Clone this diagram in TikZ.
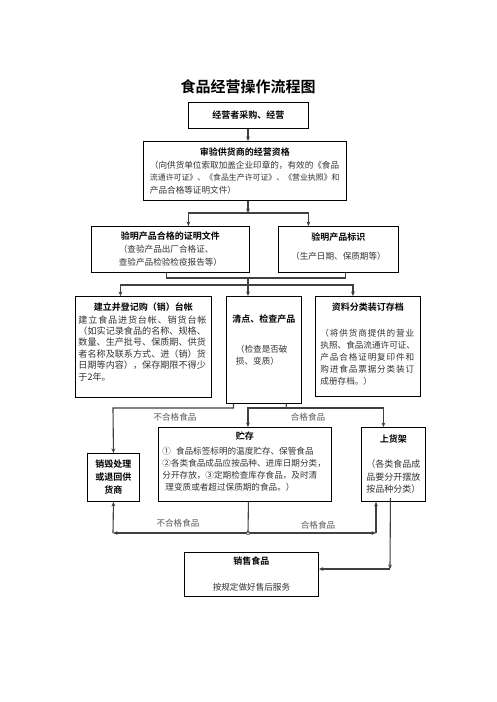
\documentclass[tikz,border=0pt]{standalone}
\usepackage{fontspec}
\setmainfont{Noto Sans CJK SC}[BoldFont={Noto Sans CJK SC Bold}]
\usetikzlibrary{arrows.meta}

\newcommand\bodyfont{\fontsize{8.6}{12.4}\selectfont}
\newcommand\hd[1]{{\color{black}\fontsize{9}{12}\selectfont\bfseries #1}}

\begin{document}
\begin{tikzpicture}[x=1pt,y=-1pt,
    box/.style={draw, line width=0.9pt, anchor=north west, inner sep=0pt,
      align=center, font=\bodyfont, text=black!80},
    link/.style={draw=black!75, line width=1.1pt},
    arr/.style={link, -{Stealth[length=4.5pt,width=3.8pt]}},
    twin/.style={link, {Stealth[length=4.5pt,width=3.8pt,reversed]}-{Stealth[length=4.5pt,width=3.8pt]}},
    tag/.style={font=\bodyfont, text=black!65}]
  \path[fill=white,use as bounding box] (0,0) rectangle (496,702);

  % title
  \node[font=\fontsize{15}{18}\selectfont\bfseries] (title) at (248,87) {食品经营操作流程图};

  % boxes
  \node[box, minimum width=120pt, minimum height=26pt,
    font=\fontsize{9}{12}\selectfont\bfseries, text=black] (buy) at (188,102) {经营者采购、经营};
  \node[box, minimum width=203pt, minimum height=59pt] (check) at (143,141)
    {\hd{审验供货商的经营资格}\\[0.5pt]
     \makebox[190pt][l]{（向供货单位索取加盖企业印章的，有效的《食品}\\
     \makebox[190pt][l]{\fontsize{7.9}{12.4}\selectfont 流通许可证》、《食品生产许可证》、《营业执照》和}\\
     \makebox[190pt][l]{产品合格等证明文件）}};
  \node[box, minimum width=158pt, minimum height=46pt,
    font=\fontsize{8.6}{13}\selectfont] (cert) at (91,226)
    {\hd{验明产品合格的证明文件}\\
     \makebox[103.2pt][l]{（查验产品出厂合格证、}\\
     查验产品检验检疫报告等）};
  \node[box, minimum width=120pt, minimum height=46pt] (mark) at (278,226)
    {\hd{验明产品标识}\\[6.6pt]（生产日期、保质期等）\\[-4.8pt]};
  \node[box, minimum width=136pt, minimum height=101pt,
    font=\fontsize{9.1}{11.4}\selectfont] (ledger) at (75,296)
    {\hd{建立并登记购（销）台帐}\\[1.6pt]
     \makebox[130pt][l]{\addfontfeature{LetterSpace=9}建立食品进货台帐、销货台帐}\\
     \makebox[130pt][l]{（如实记录食品的名称、规格、}\\
     \makebox[130pt][l]{数量、生产批号、保质期、供货}\\
     \makebox[130pt][l]{者名称及联系方式、进（销）货}\\
     \makebox[130pt][l]{日期等内容），保存期限不得少}\\
     \makebox[130pt][l]{于2年。}\\[0.2pt]};
  \node[box, minimum width=75pt, minimum height=107pt,
    font=\fontsize{8.6}{11.4}\selectfont] (inspect) at (226,296)
    {\hd{清点、检查产品}\\[18.6pt]
     \makebox[56pt][l]{（检查是否破}\\
     \makebox[56pt][l]{损、变质）}\\[9.2pt]};
  \node[box, minimum width=105pt, minimum height=100pt,
    font=\fontsize{8.6}{12}\selectfont] (archive) at (315,296)
    {\hd{资料分类装订存档}\\[14pt]
     \makebox[95pt][l]{\addfontfeature{LetterSpace=10}（将供货商提供的营业}\\
     \makebox[95pt][l]{执照、食品流通许可证、}\\
     \makebox[95pt][l]{\addfontfeature{LetterSpace=10}产品合格证明复印件和}\\
     \makebox[95pt][l]{\addfontfeature{LetterSpace=10}购进食品票据分类装订}\\
     \makebox[95pt][l]{成册存档。）}\\[-7.4pt]};
  \node[box, minimum width=52pt, minimum height=48pt,
    font=\fontsize{9}{13}\selectfont\bfseries, text=black] (destroy) at (87,453)
    {销毁处理\\或退回供\\货商};
  \node[box, minimum width=173pt, minimum height=74pt,
    font=\fontsize{8.6}{12}\selectfont] (store) at (158,427)
    {\hd{贮存}\\[3pt]
     \makebox[165pt][l]{①\hspace{5pt}食品标签标明的温度贮存、保管食品}\\
     \makebox[165pt][l]{②各类食品成品应按品种、进库日期分类，}\\
     \makebox[165pt][l]{分开存放，③定期检查库存食品，及时清}\\
     \makebox[165pt][l]{\hspace{3pt}理变质或者超过保质期的食品。）}\\[-4.4pt]};
  \node[box, minimum width=64pt, minimum height=74pt,
    font=\fontsize{9}{12.5}\selectfont] (shelf) at (361,427)
    {\hd{上货架}\\[12.5pt]（各类食品成\\品要分开摆放\\按品种分类）};
  \node[box, minimum width=134pt, minimum height=44pt] (sell) at (184,552)
    {\hd{销售食品}\\[13.6pt]按规定做好售后服务};

  % connectors
  \coordinate (fork1) at (248,213);
  \coordinate (join1) at (248,278);
  \coordinate (fork2) at (248,285);
  \coordinate (bad1) at (113,408);
  \coordinate (good1) at (286,408);
  \coordinate (split) at (248,533);
  \coordinate (bad2) at (113,533);
  \coordinate (good2) at (376,533);
  \coordinate (out) at (390,569);

  \draw[arr] (buy.south -| fork1) -- (check.north -| fork1);
  \draw[arr] (check.south -| fork1) -- (fork1);
  \draw[arr] (fork1) -| ([xshift=18pt]cert.north);
  \draw[arr] (fork1) -| ([xshift=-30pt]mark.north);
  \draw[link] ([xshift=-4pt]cert.south) |- (join1) -| ([xshift=7pt]mark.south);
  \draw[link] (join1) -- (fork2);
  \draw[arr] (fork2) -| ([xshift=-23pt]ledger.north);
  \draw[arr] (fork2) -- (fork2 |- inspect.north);
  \draw[arr] (fork2) -| ([xshift=-15pt]archive.north);

  \draw[arr] ([xshift=-30.5pt]inspect.south) |- (bad1) -- (destroy.north);
  \draw[link] ([xshift=22.5pt]inspect.south) -- (good1);
  \draw[arr] (good1) -| ([xshift=3pt]store.north);
  \draw[arr] (good1) -| ([xshift=-10pt]shelf.north);

  \draw[link] ([xshift=3.5pt]store.south) -- (split);
  \draw[twin] (split) -- (bad2);
  \draw[arr] (bad2) -- (destroy.south);
  \draw[twin] (split) -- (good2);
  \draw[arr] (good2) -- (good2 |- shelf.south);

  \draw[arr] ([xshift=-3pt,yshift=4pt]shelf.south) -- (out);
  \draw[arr] (out) -- (out -| sell.east);

  % labels
  \node[tag] (badtop) at (175,417) {不合格食品};
  \node[tag] (goodtop) at (308,417) {合格食品};
  \node[tag] (badbot) at (178,523) {不合格食品};
  \node[tag] (goodbot) at (318,525) {合格食品};
\end{tikzpicture}
\end{document}
